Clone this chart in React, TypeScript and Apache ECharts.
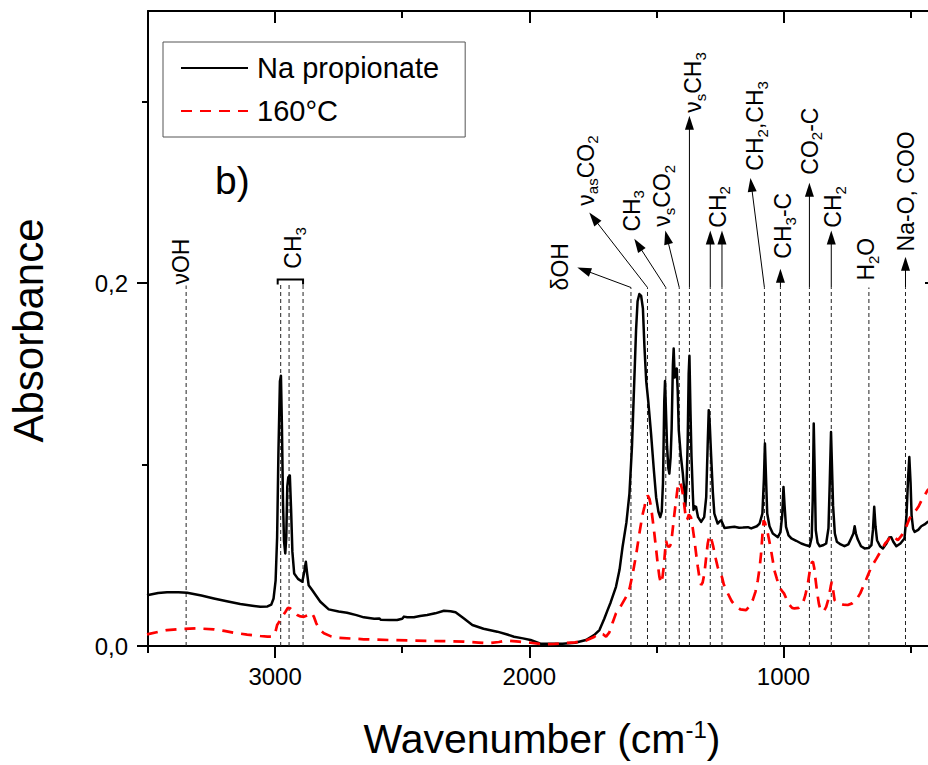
import React, { useEffect, useRef } from 'react';
import * as echarts from 'echarts';

const FONT = '"Liberation Sans", Arial, Helvetica, sans-serif';

const seriesNames = ['Na propionate', '160°C'];

// [wavenumber (cm-1), absorbance]
const naPropionate: [number, number][] = [
  [3504, 0.028], [3460, 0.0292], [3425, 0.0296], [3380, 0.0296], [3346, 0.0293], [3290, 0.0278],
  [3241, 0.0262], [3190, 0.0247], [3137, 0.0231], [3090, 0.0222], [3058, 0.0216], [3030, 0.0218],
  [3015, 0.0228], [3006, 0.0262], [2998, 0.036], [2992, 0.06], [2987, 0.106], [2981, 0.146],
  [2977, 0.149], [2973, 0.12], [2969, 0.08], [2965, 0.058], [2960, 0.051], [2956, 0.06],
  [2952, 0.088], [2948, 0.093], [2942, 0.094], [2937, 0.075], [2932, 0.052], [2925, 0.04],
  [2910, 0.037], [2893, 0.0354], [2885, 0.041], [2879, 0.0464], [2874, 0.04], [2868, 0.0335],
  [2855, 0.031], [2840, 0.028], [2822, 0.0244], [2789, 0.0202], [2750, 0.019], [2717, 0.0183],
  [2680, 0.017], [2651, 0.0158], [2610, 0.015], [2590, 0.0152], [2585, 0.0145], [2550, 0.0143],
  [2520, 0.0143], [2500, 0.015], [2493, 0.0162], [2480, 0.0158], [2454, 0.0158], [2430, 0.0165],
  [2402, 0.0171], [2370, 0.018], [2336, 0.0194], [2310, 0.0192], [2290, 0.0186], [2257, 0.0152],
  [2224, 0.0116], [2180, 0.0095], [2126, 0.0079], [2090, 0.0065], [2060, 0.0051], [2025, 0.0042],
  [1995, 0.0033], [1956, 0.0013], [1920, 0.0012], [1869, 0.0013], [1820, 0.0018], [1777, 0.0033],
  [1745, 0.006], [1724, 0.0088], [1705, 0.015], [1692, 0.0198], [1680, 0.024], [1659, 0.0326],
  [1645, 0.042], [1633, 0.0547], [1618, 0.068], [1606, 0.084], [1596, 0.11], [1587, 0.146],
  [1580, 0.174], [1574, 0.19], [1567, 0.194], [1560, 0.193], [1553, 0.186], [1547, 0.165],
  [1540, 0.146], [1532, 0.135], [1521, 0.117], [1510, 0.097], [1501, 0.082], [1492, 0.074],
  [1485, 0.071], [1479, 0.074], [1474, 0.09], [1469, 0.135], [1466, 0.146], [1462, 0.128],
  [1458, 0.11], [1453, 0.098], [1449, 0.095], [1444, 0.104], [1440, 0.12], [1435, 0.155],
  [1432, 0.164], [1428, 0.148], [1424, 0.15], [1420, 0.153], [1416, 0.14], [1412, 0.119],
  [1404, 0.105], [1396, 0.095], [1390, 0.085], [1386, 0.077], [1381, 0.09], [1377, 0.1116],
  [1373, 0.15], [1370, 0.16], [1366, 0.13], [1362, 0.105], [1357, 0.085], [1354, 0.075],
  [1349, 0.077], [1344, 0.0767], [1336, 0.071], [1324, 0.0684], [1312, 0.071], [1304, 0.082],
  [1298, 0.112], [1294, 0.13], [1290, 0.122], [1285, 0.106], [1278, 0.085], [1272, 0.073],
  [1259, 0.0675], [1250, 0.0688], [1245, 0.0693], [1232, 0.065], [1210, 0.0655], [1193, 0.0657],
  [1175, 0.0652], [1160, 0.0653], [1140, 0.0655], [1127, 0.0648], [1105, 0.066], [1094, 0.0675],
  [1083, 0.073], [1077, 0.092], [1073, 0.1116], [1069, 0.094], [1064, 0.073], [1055, 0.066],
  [1042, 0.062], [1022, 0.06], [1012, 0.0627], [1005, 0.072], [1000, 0.0877], [996, 0.078],
  [990, 0.0657], [980, 0.061], [969, 0.0593], [950, 0.058], [930, 0.0565], [910, 0.0555],
  [897, 0.055], [889, 0.06], [885, 0.08], [881, 0.1226], [877, 0.095], [873, 0.0638],
  [866, 0.057], [858, 0.055], [845, 0.0555], [832, 0.0565], [823, 0.065], [818, 0.09],
  [813, 0.118], [809, 0.098], [805, 0.0775], [798, 0.062], [790, 0.0575], [775, 0.056],
  [760, 0.055], [745, 0.056], [734, 0.0593], [725, 0.062], [720, 0.066], [715, 0.062],
  [708, 0.0588], [695, 0.055], [681, 0.0538], [665, 0.054], [654, 0.0556], [648, 0.064],
  [643, 0.0767], [638, 0.066], [632, 0.0583], [620, 0.055], [609, 0.0538], [595, 0.0565],
  [584, 0.0598], [576, 0.06], [568, 0.0575], [556, 0.055], [540, 0.0565], [524, 0.0593],
  [516, 0.072], [510, 0.092], [505, 0.1042], [500, 0.09], [496, 0.072], [490, 0.0645],
  [484, 0.0629], [470, 0.064], [458, 0.066], [445, 0.067], [433, 0.0684], [400, 0.07],
];

const heated160: [number, number][] = [
  [3504, 0.0064], [3460, 0.0078], [3425, 0.0088], [3370, 0.0094], [3307, 0.0097], [3241, 0.0092],
  [3200, 0.0083], [3163, 0.0073], [3110, 0.0063], [3058, 0.0055], [3030, 0.0052], [3012, 0.0051],
  [3000, 0.007], [2992, 0.0116], [2979, 0.0143], [2968, 0.017], [2959, 0.0189], [2950, 0.021],
  [2940, 0.0207], [2925, 0.019], [2913, 0.0171], [2900, 0.0163], [2887, 0.0161], [2870, 0.017],
  [2856, 0.0183], [2847, 0.016], [2838, 0.0125], [2825, 0.009], [2808, 0.007], [2780, 0.0053],
  [2756, 0.0046], [2700, 0.0041], [2651, 0.0037], [2550, 0.0033], [2454, 0.003], [2350, 0.0027],
  [2257, 0.0024], [2200, 0.0019], [2165, 0.0015], [2120, 0.0022], [2087, 0.003], [2040, 0.0024],
  [1995, 0.0018], [1942, 0.0009], [1900, 0.0012], [1869, 0.0015], [1820, 0.002], [1777, 0.003],
  [1745, 0.005], [1724, 0.007], [1710, 0.0065], [1698, 0.0052], [1685, 0.0075], [1672, 0.013],
  [1659, 0.018], [1640, 0.022], [1619, 0.0271], [1605, 0.032], [1593, 0.04], [1580, 0.05],
  [1567, 0.062], [1555, 0.072], [1547, 0.0767], [1540, 0.081], [1534, 0.083], [1527, 0.081],
  [1521, 0.0767], [1515, 0.07], [1508, 0.062], [1500, 0.052], [1495, 0.0455], [1488, 0.038],
  [1482, 0.0345], [1476, 0.038], [1471, 0.0436], [1466, 0.052], [1462, 0.058], [1457, 0.0555],
  [1452, 0.0546], [1447, 0.055], [1442, 0.0565], [1436, 0.064], [1429, 0.073], [1422, 0.081],
  [1416, 0.0877], [1407, 0.0905], [1400, 0.087], [1394, 0.082], [1388, 0.075], [1383, 0.0693],
  [1378, 0.07], [1372, 0.0725], [1364, 0.071], [1357, 0.065], [1350, 0.058], [1343, 0.05],
  [1337, 0.0436], [1330, 0.037], [1324, 0.0336], [1318, 0.035], [1311, 0.04], [1304, 0.049],
  [1298, 0.0565], [1292, 0.0605], [1287, 0.061], [1282, 0.058], [1276, 0.0546], [1268, 0.049],
  [1259, 0.0436], [1250, 0.04], [1242, 0.038], [1235, 0.034], [1226, 0.031], [1219, 0.029],
  [1205, 0.025], [1193, 0.0226], [1170, 0.0202], [1147, 0.0198], [1133, 0.022], [1121, 0.0253],
  [1110, 0.03], [1101, 0.0363], [1094, 0.043], [1088, 0.051], [1083, 0.061], [1078, 0.0693],
  [1073, 0.068], [1068, 0.0655], [1064, 0.0638], [1056, 0.058], [1049, 0.0528], [1042, 0.047],
  [1036, 0.0418], [1026, 0.037], [1016, 0.0326], [1007, 0.0305], [998, 0.029], [987, 0.0255],
  [976, 0.0226], [966, 0.021], [957, 0.0207], [940, 0.021], [924, 0.0235], [914, 0.028],
  [904, 0.0345], [898, 0.04], [894, 0.0436], [888, 0.0462], [884, 0.0464], [879, 0.043],
  [875, 0.038], [868, 0.03], [861, 0.0235], [855, 0.02], [849, 0.0189], [840, 0.0195],
  [832, 0.0216], [825, 0.025], [819, 0.029], [814, 0.033], [810, 0.0354], [805, 0.031],
  [799, 0.0253], [790, 0.0238], [780, 0.0235], [765, 0.0228], [747, 0.0226], [730, 0.0235],
  [714, 0.0253], [698, 0.029], [681, 0.0345], [668, 0.039], [654, 0.0436], [635, 0.048],
  [615, 0.0528], [600, 0.0565], [590, 0.058], [576, 0.0611], [563, 0.06], [550, 0.0583],
  [535, 0.061], [517, 0.0657], [508, 0.069], [498, 0.072], [488, 0.0735], [478, 0.075],
  [468, 0.077], [458, 0.08], [445, 0.083], [433, 0.0859], [400, 0.09],
];

const xMajorTicks = [3000, 2000, 1000];
const xMinorTicks = [3500, 2500, 1500, 500];
const yMajorTicks = [0, 0.2];
const yMinorTicks = [0.1, 0.3];

// assigned bands (dashed guide lines) and how high each guide reaches (absorbance)
const bandWavenumbers = [3350, 2978, 2945, 2890, 1600, 1535, 1463, 1410, 1370, 1288, 1242, 1075, 1012, 898, 812, 664, 520];
const bandTops = [0.1987, 0.1992, 0.1992, 0.1992, 0.1976, 0.1976, 0.1976, 0.1976, 0.1976, 0.1976, 0.1976, 0.1976, 0.1976, 0.1976, 0.1976, 0.1976, 0.1976];

// label anchors in data space: [wavenumber, absorbance] of the start of the (vertical) text
const bandLabels = [
  { text: '{n|νOH}', at: [3366, 0.1992] },
  { text: '{n|CH}{s|3}', at: [2922, 0.208] },
  { text: '{n|δOH}', at: [1872, 0.196] },
  { text: '{n|ν}{s|as}{n|CO}{s|2}', at: [1772, 0.2427] },
  { text: '{n|CH}{s|3}', at: [1591, 0.2284] },
  { text: '{n|ν}{s|s}{n|CO}{s|2}', at: [1472, 0.2311] },
  { text: '{n|ν}{s|s}{n|CH}{s|3}', at: [1350, 0.2939] },
  { text: '{n|CH}{s|2}', at: [1252, 0.2306] },
  { text: '{n|CH}{s|2}{n|,CH}{s|3}', at: [1106, 0.262] },
  { text: '{n|CH}{s|3}{n|-C}', at: [996, 0.2135] },
  { text: '{n|CO}{s|2}{n|-C}', at: [890, 0.2598] },
  { text: '{n|CH}{s|2}', at: [799, 0.2306] },
  { text: '{n|H}{s|2}{n|O}', at: [669, 0.2014] },
  { text: '{n|Na-O, COO}', at: [512, 0.2175] },
];

// arrows from the top of a guide line to a tip [wavenumber, absorbance]
const bandArrows = [
  { band: 1600, tip: [1811, 0.2086] },
  { band: 1535, tip: [1764, 0.2389] },
  { band: 1463, tip: [1587, 0.2245] },
  { band: 1410, tip: [1465, 0.229] },
  { band: 1370, tip: [1370, 0.2922] },
  { band: 1288, tip: [1288, 0.229] },
  { band: 1242, tip: [1242, 0.229] },
  { band: 1075, tip: [1130, 0.258] },
  { band: 1012, tip: [1012, 0.208] },
  { band: 898, tip: [898, 0.2554] },
  { band: 812, tip: [812, 0.229] },
  { band: 520, tip: [520, 0.2146] },
];

const bracketBands = [2978, 2890];

export default function App() {
  const ref = useRef<HTMLDivElement>(null);

  useEffect(() => {
    if (!ref.current) return;
    const chart = echarts.init(ref.current, null, { renderer: 'svg' });

    const tickStyle = { color: '#000', width: 2 };
    const xBase = { type: 'value', inverse: true, min: 400, max: 3500, splitLine: { show: false } };
    const yBase = { type: 'value', min: 0, max: 0.35, splitLine: { show: false } };

    const option: any = {
      animation: false,
      backgroundColor: '#ffffff',
      grid: { left: 148, top: 11, width: 788, height: 635, containLabel: false, outerBoundsMode: 'none' },
      legend: {
        data: seriesNames,
        orient: 'vertical',
        left: 163,
        top: 42,
        itemWidth: 67,
        itemHeight: 14,
        itemGap: 9,
        padding: [9, 26, 9, 17],
        borderColor: '#555',
        borderWidth: 1,
        selectedMode: false,
        itemStyle: { opacity: 0 },
        textStyle: {
          color: '#000',
          fontFamily: FONT,
          fontSize: 29,
          lineHeight: 34,
          padding: [0, 0, 0, 4],
        },
      },
      xAxis: [
        {
          ...xBase,
          position: 'bottom',
          axisLine: { show: true, onZero: false, lineStyle: tickStyle },
          axisTick: { show: true, inside: false, length: 12, lineStyle: tickStyle, customValues: xMajorTicks },
          axisLabel: {
            show: true,
            customValues: xMajorTicks,
            fontSize: 24,
            fontFamily: FONT,
            color: '#000',
            margin: 18,
            formatter: (v: number) => String(Math.round(v)),
          },
        },
        {
          ...xBase,
          position: 'bottom',
          axisLine: { show: false, onZero: false },
          axisTick: { show: true, inside: false, length: 7, lineStyle: tickStyle, customValues: xMinorTicks },
          axisLabel: { show: false },
        },
        {
          ...xBase,
          position: 'top',
          axisLine: { show: true, onZero: false, lineStyle: tickStyle },
          axisTick: { show: true, inside: true, length: 12, lineStyle: tickStyle, customValues: xMajorTicks },
          axisLabel: { show: false },
        },
        {
          ...xBase,
          position: 'top',
          axisLine: { show: false, onZero: false },
          axisTick: { show: true, inside: true, length: 7, lineStyle: tickStyle, customValues: xMinorTicks },
          axisLabel: { show: false },
        },
      ],
      yAxis: [
        {
          ...yBase,
          position: 'left',
          axisLine: { show: true, onZero: false, lineStyle: tickStyle },
          axisTick: { show: true, inside: false, length: 11, lineStyle: tickStyle, customValues: yMajorTicks },
          axisLabel: {
            show: true,
            customValues: yMajorTicks,
            fontSize: 24,
            fontFamily: FONT,
            color: '#000',
            margin: 20,
            formatter: (v: number) => v.toFixed(1).replace('.', ','),
          },
        },
        {
          ...yBase,
          position: 'left',
          axisLine: { show: false, onZero: false },
          axisTick: { show: true, inside: false, length: 6, lineStyle: tickStyle, customValues: yMinorTicks },
          axisLabel: { show: false },
        },
        {
          ...yBase,
          position: 'right',
          axisLine: { show: true, onZero: false, lineStyle: tickStyle },
          axisTick: { show: true, inside: true, length: 11, lineStyle: tickStyle, customValues: yMajorTicks },
          axisLabel: { show: false },
        },
      ],
      series: [
        {
          name: seriesNames[0],
          type: 'line',
          xAxisIndex: 0,
          yAxisIndex: 0,
          data: naPropionate,
          symbol: 'none',
          showSymbol: false,
          z: 3,
          itemStyle: { color: '#000' },
          lineStyle: { color: '#000', width: 2.5, join: 'round' },
        },
        {
          name: seriesNames[1],
          type: 'line',
          xAxisIndex: 0,
          yAxisIndex: 0,
          data: heated160,
          symbol: 'none',
          showSymbol: false,
          z: 4,
          itemStyle: { color: '#ff0000' },
          lineStyle: { color: '#ff0000', width: 2.7, type: [11, 8] },
        },
      ],
    };

    chart.setOption(option);

    const px = (wn: number, a: number): number[] =>
      chart.convertToPixel({ xAxisIndex: 0, yAxisIndex: 0 }, [wn, a]) as number[];

    const els: any[] = [];

    // dashed guide lines
    bandWavenumbers.forEach((wn, i) => {
      const [x0, y0] = px(wn, 0);
      const [, y1] = px(wn, bandTops[i]);
      els.push({
        type: 'line',
        silent: true,
        z: 1,
        shape: { x1: x0, y1: y0, x2: x0, y2: y1 },
        style: { stroke: '#222', lineWidth: 1, lineDash: [4, 3] },
      });
    });

    // bracket over the CH3 stretching bands
    {
      const [xa, ya] = px(bracketBands[0], 0.1992);
      const [xb] = px(bracketBands[1], 0.1992);
      const yTop = ya - 5;
      els.push({
        type: 'polyline',
        silent: true,
        z: 1,
        shape: { points: [[xa - 3, ya], [xa - 3, yTop], [xb, yTop], [xb, ya]] },
        style: { stroke: '#000', lineWidth: 2, fill: null },
      });
    }

    // arrows
    bandArrows.forEach((a) => {
      const i = bandWavenumbers.indexOf(a.band);
      const [sx, sy] = px(a.band, bandTops[i]);
      const [tx, ty] = px(a.tip[0], a.tip[1]);
      const dx = tx - sx;
      const dy = ty - sy;
      const L = Math.hypot(dx, dy) || 1;
      const ux = dx / L;
      const uy = dy / L;
      const head = 14;
      const hw = 4.5;
      const bx = tx - ux * head;
      const by = ty - uy * head;
      els.push({
        type: 'line',
        silent: true,
        z: 1,
        shape: { x1: sx, y1: sy, x2: bx + ux * 2, y2: by + uy * 2 },
        style: { stroke: '#000', lineWidth: 1 },
      });
      els.push({
        type: 'polygon',
        silent: true,
        z: 1,
        shape: { points: [[tx, ty], [bx - uy * hw, by + ux * hw], [bx + uy * hw, by - ux * hw]] },
        style: { fill: '#000' },
      });
    });

    const annRich = {
      n: { fontSize: 23, fontFamily: FONT, lineHeight: 26, verticalAlign: 'top', fill: '#000' },
      s: { fontSize: 15, fontFamily: FONT, lineHeight: 16, padding: [13, 0, 0, 0], verticalAlign: 'bottom', fill: '#000' },
    };

    bandLabels.forEach((l) => {
      const [x, y] = px(l.at[0], l.at[1]);
      els.push({
        type: 'text',
        silent: true,
        z: 5,
        x,
        y,
        rotation: Math.PI / 2,
        style: {
          text: l.text,
          rich: annRich,
          align: 'left',
          verticalAlign: 'middle',
          fontSize: 23,
          fontFamily: FONT,
          fill: '#000',
        },
      });
    });

    // panel tag
    els.push({
      type: 'text',
      silent: true,
      x: 215,
      y: 180,
      style: { text: 'b)', fontSize: 39, fontFamily: FONT, fill: '#000', align: 'left', verticalAlign: 'middle' },
    });

    // axis titles
    const [xl, yb] = px(3500, 0);
    const [xr, yt] = px(400, 0.35);
    els.push({
      type: 'text',
      silent: true,
      x: (xl + xr) / 2,
      y: 736,
      style: {
        text: '{t|Wavenumber (cm}{p|-1}{t|)}',
        align: 'center',
        verticalAlign: 'middle',
        fill: '#000',
        fontFamily: FONT,
        fontSize: 41,
        rich: {
          t: { fontSize: 41, fontFamily: FONT, lineHeight: 46, verticalAlign: 'bottom', fill: '#000' },
          p: { fontSize: 24, fontFamily: FONT, lineHeight: 26, padding: [4, 0, 0, 0], verticalAlign: 'top', fill: '#000' },
        },
      },
    });
    els.push({
      type: 'text',
      silent: true,
      x: 28,
      y: (yb + yt) / 2 + 2,
      rotation: Math.PI / 2,
      style: { text: 'Absorbance', fontSize: 42, fontFamily: FONT, fill: '#000', align: 'center', verticalAlign: 'middle' },
    });

    chart.setOption({ graphic: els });

    return () => chart.dispose();
  }, []);

  return (
    <div
      ref={ref}
      style={{ position: 'fixed', left: 0, top: 0, width: 928, height: 765, background: '#fff' }}
    />
  );
}
